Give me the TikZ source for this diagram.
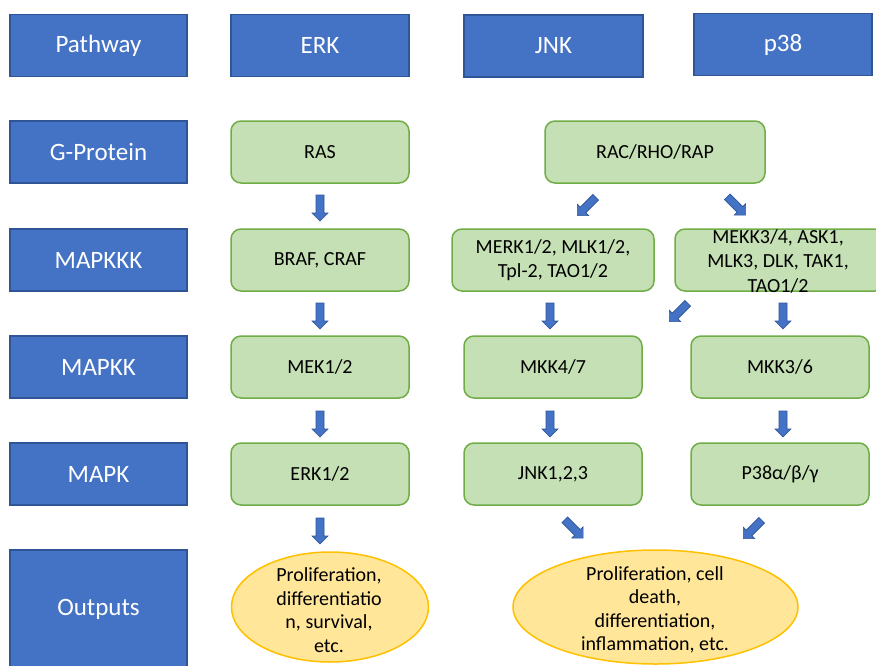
\documentclass[tikz,border=0pt]{standalone}
\usepackage{fontspec}
\setmainfont{Carlito}
\usetikzlibrary{shapes.arrows,shapes.geometric}
\definecolor{bluefill}{HTML}{4472C4}
\definecolor{blueline}{HTML}{2F5597}
\definecolor{greenfill}{HTML}{C5E0B4}
\definecolor{greenline}{HTML}{70AD47}
\definecolor{yellowfill}{HTML}{FFE699}
\definecolor{yellowline}{HTML}{FFC000}
\tikzset{
  bluebox/.style={rectangle, fill=bluefill, draw=blueline, line width=1.2pt,
    minimum width=177pt, minimum height=62pt, text=white,
    font=\fontsize{25}{30}\selectfont, inner sep=0pt},
  greenbox/.style={rectangle, rounded corners=10pt, fill=greenfill, draw=greenline,
    line width=1.5pt, minimum width=178pt, minimum height=62pt, inner sep=0pt,
    font=\fontsize{20}{24.5}\selectfont, align=center},
  gtext/.style={font=\fontsize{20}{24.5}\selectfont, align=center, inner sep=0pt},
  outell/.style={ellipse, fill=yellowfill, draw=yellowline, line width=1.5pt, inner sep=0pt},
  otext/.style={font=\fontsize{20}{23.5}\selectfont, align=center, inner sep=0pt},
  barrow/.style={single arrow, fill=bluefill, draw=blueline, line width=0.6pt,
    minimum height=26pt, inner xsep=0pt, inner ysep=3.7pt,
    single arrow head extend=4pt, single arrow tip angle=90, anchor=center}
}
\begin{document}
\begin{tikzpicture}[x=1pt,y=-1pt]
\useasboundingbox (0,0) rectangle (876,665);
\clip (0,0) rectangle (876,665);
% left column
\node[bluebox] (pathway) at (98.5,45.5) {Pathway};
\node[bluebox] (gprot) at (98.5,152) {G-Protein};
\node[bluebox] (mapkkk) at (98.5,260) {MAPKKK};
\node[bluebox] (mapkk) at (98.5,367) {MAPKK};
\node[bluebox] (mapk) at (98.5,474) {MAPK};
\node[bluebox, minimum height=118pt] (outputs) at (98.5,609) {Outputs};
% top row
\node[bluebox, minimum width=178pt] (erk) at (320,45.5) {ERK};
\node[bluebox, minimum width=179pt] (jnk) at (553.5,46) {JNK};
\node[bluebox, minimum width=178pt] (p38) at (783,44.5) {p38};
% green boxes
\node[greenbox] (ras) at (320,152) {RAS};
\node[greenbox, minimum width=220pt] (rac) at (655,152) {RAC/RHO/RAP};
\node[greenbox] (braf) at (320,260) {BRAF, CRAF};
\node[greenbox, minimum width=202pt] (merk) at (553,260) {};
\node[gtext] at (merk) {MERK1/2, MLK1/2,\\Tpl-2, TAO1/2};
\node[greenbox, minimum width=210pt] (mekk) at (780,260) {};
\node[gtext] at (778,261) {MEKK3/4, ASK1,\\MLK3, DLK, TAK1,\\TAO1/2};
\node[greenbox] (mek) at (320,367) {MEK1/2};
\node[greenbox] (mkk47) at (553,367) {MKK4/7};
\node[greenbox] (mkk36) at (780,367) {MKK3/6};
\node[greenbox] (erk12) at (320,474) {ERK1/2};
\node[greenbox] (jnk123) at (553,474) {JNK1,2,3};
\node[greenbox] (p38abg) at (780,474) {P38α/β/γ};
% outputs
\node[outell, minimum width=197pt, minimum height=110pt] (out1) at (330,607) {};
\node[otext] at (329,610) {Proliferation,\\differentiatio\\n, survival,\\etc.};
\node[outell, minimum width=285pt, minimum height=114pt] (out2) at (655.5,607) {};
\node[otext] at (655,610) {Proliferation, cell\\death,\\differentiation,\\inflammation, etc.};
% arrows
\node[barrow, rotate=-90] (a1) at (320,206) {};
\node[barrow, rotate=-90] (a2) at (320,314) {};
\node[barrow, rotate=-90] (a3) at (320,422) {};
\node[barrow, rotate=-90] (a4) at (320,529) {};
\node[barrow, rotate=-135] (a5) at (588,205) {};
\node[barrow, rotate=-45] (a6) at (735,204.5) {};
\node[barrow, rotate=-90] (a7) at (550,314) {};
\node[barrow, rotate=-135] (a8) at (680,311) {};
\node[barrow, rotate=-90] (a9) at (783,314) {};
\node[barrow, rotate=-90] (a10) at (550,422) {};
\node[barrow, rotate=-90] (a11) at (783,422) {};
\node[barrow, rotate=-45] (a12) at (572.5,527.5) {};
\node[barrow, rotate=-135] (a13) at (754,528) {};
\end{tikzpicture}
\end{document}
